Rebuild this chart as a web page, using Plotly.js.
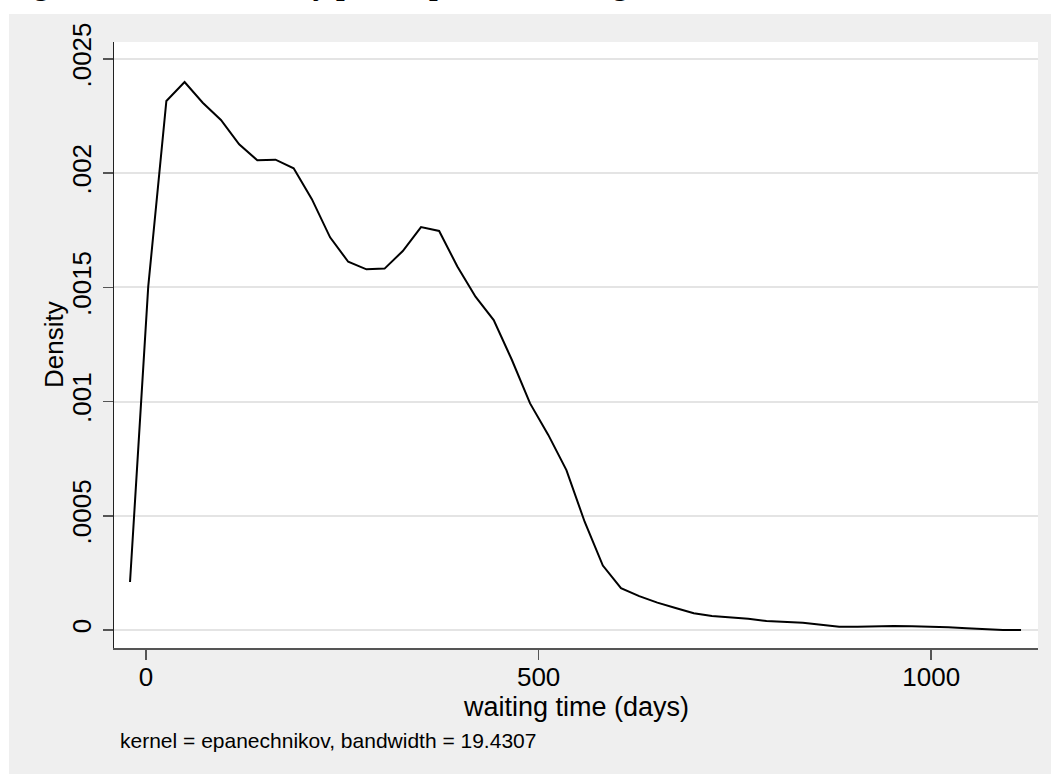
<!DOCTYPE html>
<html>
<head>
<meta charset="utf-8">
<script src="https://cdn.plot.ly/plotly-3.0.1.min.js"></script>
<style>
html,body{margin:0;padding:0;background:#ffffff;}
#chart{width:1051px;height:774px;}
</style>
</head>
<body>
<div id="chart"></div>
<script>
// waiting time (days) at evaluation points
const waitingDays = [-20.4, 2.8, 25.9, 49.1, 72.2, 95.4, 118.6, 141.7, 164.9, 188.0,
  211.2, 234.4, 257.5, 280.7, 303.8, 327.0, 350.2, 373.3, 396.5, 419.6,
  442.8, 466.0, 489.1, 512.3, 535.4, 558.6, 581.8, 604.9, 628.1, 651.2,
  674.4, 697.6, 720.7, 743.9, 767.0, 790.2, 813.4, 836.5, 859.7, 882.8,
  906.0, 929.2, 952.3, 975.5, 998.6, 1021.8, 1045.0, 1068.1, 1091.3, 1114.4];
// estimated density
const densityValues = [0.000210, 0.001503, 0.002316, 0.002399, 0.002308, 0.002233, 0.002126, 0.002056, 0.002059, 0.002021,
  0.001886, 0.001719, 0.001612, 0.001579, 0.001582, 0.001659, 0.001764, 0.001747, 0.001591, 0.001459,
  0.001357, 0.001182, 0.000992, 0.000854, 0.000700, 0.000474, 0.000282, 0.000183, 0.000148, 0.000120,
  0.0000963, 0.0000731, 0.0000613, 0.0000556, 0.0000495, 0.0000394, 0.0000350, 0.0000320, 0.0000232, 0.0000144,
  0.0000144, 0.0000162, 0.0000175, 0.0000162, 0.0000144, 0.0000118, 0.0000074, 0.0000030, 0.0000005, 0.0000002];
const yTickVals = [0, 0.0005, 0.001, 0.0015, 0.002, 0.0025];
const yTickText = ['0', '.0005', '.001', '.0015', '.002', '.0025'];
const xTickVals = [0, 500, 1000];
const xTickText = ['0', '500', '1000'];
const chartTitle = 'Figure 1: Kernel density plot of patient waiting time';
const noteText = 'kernel = epanechnikov, bandwidth = 19.4307';
const xTitle = 'waiting time (days)';
const yTitle = 'Density';

// layout geometry (pixels)
const W = 1051, H = 774;
const plotL = 114, plotR = 1038, plotT = 42, plotB = 648;
const pw = plotR - plotL, ph = plotB - plotT;
const px = v => (v - plotL) / pw;
const py = v => (plotB - v) / ph;

const trace = {
  x: waitingDays, y: densityValues, type: 'scatter', mode: 'lines',
  line: {color: '#000000', width: 2}, hoverinfo: 'skip', showlegend: false
};

const sans = 'Liberation Sans, Arial, sans-serif';
const layout = {
  width: W, height: H,
  margin: {l: plotL, r: W - plotR, t: plotT, b: H - plotB, pad: 0, autoexpand: false},
  paper_bgcolor: '#ffffff', plot_bgcolor: '#ffffff',
  showlegend: false,
  title: {
    text: '<b>' + chartTitle + '</b>',
    font: {family: 'Liberation Serif, Times New Roman, serif', size: 31, color: '#000000'},
    xref: 'container', x: 6 / W, xanchor: 'left',
    yref: 'paper', y: 1, yanchor: 'bottom',
    pad: {t: 0, b: plotT + 6, l: 0, r: 0},
    automargin: false
  },
  xaxis: {
    range: [-40.8, 1136], tickvals: xTickVals, ticktext: xTickText,
    showgrid: false, zeroline: false, showline: true, linecolor: '#555555', linewidth: 1.5,
    ticks: 'outside', ticklen: 10, tickwidth: 1.5, tickcolor: '#555555',
    tickfont: {family: sans, size: 26, color: '#000000'},
    ticklabelstandoff: -5,
    automargin: false, fixedrange: true
  },
  yaxis: {
    range: [-0.0000788, 0.002574], tickvals: yTickVals, ticktext: yTickText,
    tickangle: -90,
    showgrid: true, gridcolor: '#e4e4e4', gridwidth: 2, zeroline: false,
    showline: true, linecolor: '#222222', linewidth: 1.2,
    ticks: 'outside', ticklen: 10, tickwidth: 1.5, tickcolor: '#555555',
    tickfont: {family: sans, size: 26, color: '#000000'},
    ticklabelstandoff: 1,
    automargin: false, fixedrange: true
  },
  shapes: [
    {type: 'rect', xref: 'paper', yref: 'paper', layer: 'below',
     x0: px(9), x1: px(W), y0: py(H), y1: py(14),
     fillcolor: '#efefef', line: {width: 0}},
    {type: 'rect', xref: 'paper', yref: 'paper', layer: 'below',
     x0: 0, x1: 1, y0: 0, y1: 1,
     fillcolor: '#ffffff', line: {width: 0}}
  ],
  annotations: [
    {text: xTitle, xref: 'paper', yref: 'paper',
     x: 0.5, y: py(707), xanchor: 'center', yanchor: 'middle', showarrow: false,
     font: {family: sans, size: 27, color: '#000000'}},
    {text: yTitle, xref: 'paper', yref: 'paper', textangle: -90,
     x: px(54), y: 0.5, xanchor: 'center', yanchor: 'middle', showarrow: false,
     font: {family: sans, size: 26, color: '#000000'}},
    {text: noteText, xref: 'paper', yref: 'paper',
     x: px(118), y: py(740), xanchor: 'left', yanchor: 'middle', showarrow: false,
     font: {family: sans, size: 21, color: '#000000'}}
  ]
};

Plotly.newPlot('chart', [trace], layout, {displayModeBar: false, staticPlot: true});
</script>
</body>
</html>
